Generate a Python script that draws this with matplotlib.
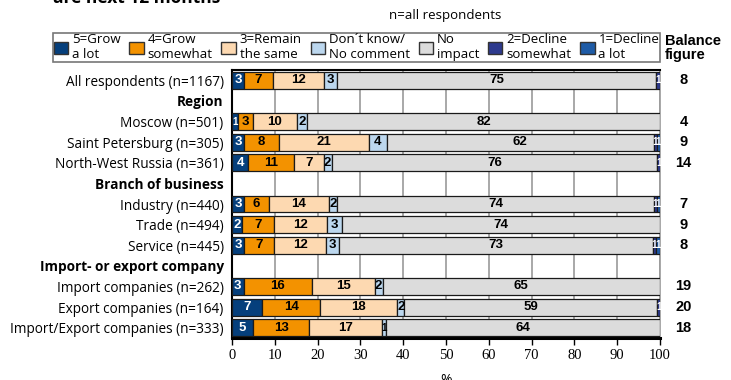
import matplotlib.pyplot as plt
from matplotlib.patches import Patch

plt.rcParams['font.family'] = ['Open Sans', 'DejaVu Sans']

row_labels = [
    "All respondents (n=1167)",
    "Region",
    "Moscow (n=501)",
    "Saint Petersburg (n=305)",
    "North-West Russia (n=361)",
    "Branch of business",
    "Industry (n=440)",
    "Trade (n=494)",
    "Service (n=445)",
    "Import- or export company",
    "Import companies (n=262)",
    "Export companies (n=164)",
    "Import/Export companies (n=333)",
]
header_rows = ["Region", "Branch of business", "Import- or export company"]

series_names = ["5=Grow\na lot", "4=Grow\nsomewhat", "3=Remain\nthe same",
                "Don´t know/\nNo comment", "No\nimpact", "2=Decline\nsomewhat",
                "1=Decline\na lot"]

# one value per data row (header rows skipped), in row order
grow_lot = [2.8, 1.4, 2.8, 3.8, 2.8, 2.4, 2.9, 2.7, 7.0, 5.0]
grow_some = [6.8, 3.4, 8.2, 10.8, 5.8, 7.4, 7.0, 15.9, 13.6, 13.0]
remain = [12.0, 10.4, 21.0, 6.8, 14.0, 12.4, 12.0, 14.7, 18.0, 17.1]
dont_know = [2.9, 2.4, 4.1, 1.9, 1.9, 3.4, 3.0, 1.9, 1.7, 0.9]
no_impact = [74.6, 82.4, 62.4, 76.1, 74.1, 74.4, 73.4, 64.8, 59.1, 64.0]
decline_some = [0.9, 0.0, 0.8, 0.6, 0.7, 0.0, 0.85, 0.0, 0.6, 0.0]
decline_lot = [0.0, 0.0, 0.7, 0.0, 0.7, 0.0, 0.85, 0.0, 0.0, 0.0]
balance = [8, 4, 9, 14, 7, 9, 8, 19, 20, 18]

series = [grow_lot, grow_some, remain, dont_know, no_impact, decline_some, decline_lot]
colors = ["#053F7C", "#F39200", "#FDD9B1", "#BCD7EE", "#DCDCDC", "#2D3A8E", "#1E5BA6"]
dark = [True, False, False, False, False, True, True]

fig = plt.figure(figsize=(7.31, 3.8), dpi=100)
ax = fig.add_axes([232 / 731, 1 - 338 / 380, 428 / 731, 268 / 380])

data_pos = [i for i, lab in enumerate(row_labels) if lab not in header_rows]

left = [0.0] * len(data_pos)
for vals, col, is_dark in zip(series, colors, dark):
    for k, (y, v) in enumerate(zip(data_pos, vals)):
        if v <= 0:
            continue
        ax.barh(y, v, left=left[k], height=0.82, color=col,
                edgecolor="#1a1a1a", linewidth=0.9, zorder=3)
        r = int(v + 0.5)
        if r >= 1:
            fs = 9.5 if v >= 1.5 else 7
            ax.text(left[k] + v / 2, y, str(r), ha="center", va="center",
                    fontsize=fs, fontweight="bold",
                    color="white" if is_dark else "black",
                    family=["Liberation Sans"], zorder=4)
        left[k] += v

for y, b in zip(data_pos, balance):
    ax.text(105.5, y, str(b), ha="center", va="center", fontsize=10.5,
            fontweight="bold", family=["Liberation Sans"], clip_on=False)

ax.set_xlim(0, 100)
ax.set_ylim(len(row_labels) - 0.5, -0.5)
ax.set_yticks(range(len(row_labels)))
ax.set_yticklabels(row_labels, fontsize=9.8)
for lab in ax.get_yticklabels():
    if lab.get_text() in header_rows:
        lab.set_fontweight("bold")
ax.tick_params(axis="y", length=0, pad=6)
ax.set_xticks(range(0, 101, 10))
ax.tick_params(axis="x", length=5, width=1, labelsize=10.5, pad=3)
for lab in ax.get_xticklabels():
    lab.set_family(["Liberation Serif"])
ax.xaxis.grid(True, color="#9a9a9a", linewidth=1.2, zorder=0)
ax.set_axisbelow(True)

for side in ("left", "top"):
    ax.spines[side].set_color("black")
    ax.spines[side].set_linewidth(1.5)
ax.spines["bottom"].set_linewidth(2.2)
ax.spines["right"].set_color("#9a9a9a")
ax.spines["right"].set_linewidth(1.2)

ax.set_xlabel("%", fontsize=10, labelpad=8)

handles = [Patch(facecolor=c, edgecolor="#333333", linewidth=1.0) for c in colors]
fig.legend(handles, series_names, ncol=7, loc="lower left",
           bbox_to_anchor=(53 / 731, 1 - 62 / 380, 607 / 731, 32 / 380),
           mode="expand", fontsize=9.5, frameon=True, fancybox=False,
           edgecolor="#555555", handlelength=1.1, handleheight=1.1,
           handletextpad=0.3, borderpad=0.05, labelspacing=0,
           borderaxespad=0).get_frame().set_linewidth(1.2)

fig.text(665 / 731, 1 - 48 / 380, "Balance\nfigure", fontsize=10.5,
         fontweight="bold", va="center", ha="left", linespacing=1.0,
         family=["Liberation Sans"])
fig.text(445 / 731, 1 - 15 / 380, "n=all respondents", fontsize=9.5,
         ha="center", va="center")
fig.text(53 / 731, 1 + 2 / 380, "are next 12 months", fontsize=12.5,
         fontweight="bold", ha="left", va="center")

fig.savefig("out.png", dpi=100)
